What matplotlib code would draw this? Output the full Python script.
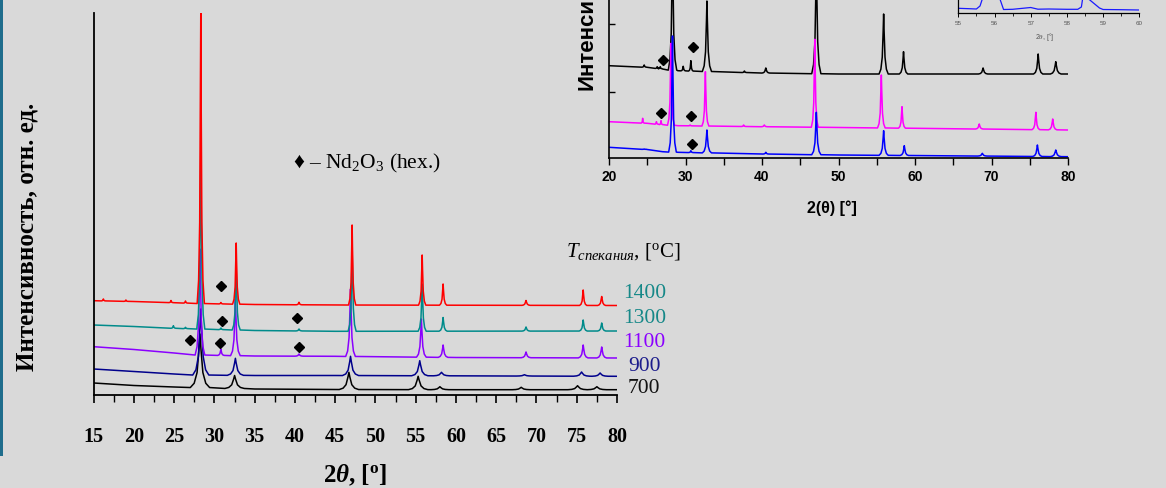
import numpy as np
import matplotlib.pyplot as plt
from matplotlib.patches import Rectangle
from matplotlib.ticker import MultipleLocator

plt.rcParams['font.family'] = ['Liberation Serif', 'DejaVu Sans']
plt.rcParams['mathtext.fontset'] = 'custom'
plt.rcParams['mathtext.rm'] = 'Liberation Serif'
plt.rcParams['mathtext.it'] = 'Liberation Serif:italic'
plt.rcParams['mathtext.bf'] = 'Liberation Serif:bold'
plt.rcParams['mathtext.sf'] = 'Liberation Serif:bold:italic'

W, H = 1166, 489

# ---- left chart: XRD patterns vs sintering temperature (arb. units) ----
# peaks are (2theta, top intensity, foot half-width)
left_ticks = [15, 20, 25, 30, 35, 40, 45, 50, 55, 60, 65, 70, 75, 80]
temps = ['700', '900', '1100', '1300', '1400']
temp_colors = ['#000000', '#00008c', '#8a00ff', '#008b8b', '#ff0000']
label_colors = ['#111111', '#1c1c8c', '#8a00ff', '#168888', '#168888']

base_700_x = [15, 20, 25, 28, 35, 45, 60, 80]
base_700_y = [12, 9.5, 8, 7.5, 6, 5.5, 5.3, 5.3]
peaks_700 = [(28.2, 61, 1.2), (32.5, 19.5, 1.2), (46.7, 22.7, 1.2), (55.3, 18.7, 1.2),
             (58.0, 8.3, 1.1), (68.1, 7.7, 1.1), (75.1, 9.3, 1.2), (77.5, 8.3, 1.2)]

base_900_x = [15, 20, 25, 28, 35, 45, 80]
base_900_y = [26, 23.5, 21, 20, 19.5, 19.5, 18.7]
peaks_900 = [(28.3, 86, 1.0), (32.6, 36.7, 1.0), (46.9, 38.7, 1.0), (55.5, 34.3, 1.0),
             (58.2, 22.7, 1.0), (68.5, 20.3, 1.0), (75.6, 23, 1.0), (77.9, 22, 1.0)]

base_1100_x = [15, 20, 25, 28, 35, 45, 60, 80]
base_1100_y = [48.3, 45.5, 42, 40, 39, 38.7, 37.5, 37]
peaks_1100 = [(28.2, 146, 0.6), (30.8, 46, 0.4), (32.6, 96, 0.6), (40.5, 41, 0.5),
              (46.9, 106, 0.6), (55.7, 76, 0.6), (58.4, 50, 0.6), (68.7, 43, 0.6),
              (75.8, 50, 0.6), (78.1, 48, 0.6)]

base_1300_x = [15, 20, 25, 28, 35, 45, 80]
base_1300_y = [70, 68.5, 66.7, 66, 64.5, 63.7, 64]
peaks_1300 = [(24.9, 69.3, 0.3), (26.4, 67.7, 0.3), (28.3, 246, 0.5), (30.8, 67, 0.3),
              (32.7, 128, 0.5), (40.5, 66, 0.4), (47.1, 146, 0.5), (55.8, 111, 0.5),
              (58.4, 77.5, 0.5), (68.7, 68, 0.5), (75.8, 75, 0.5), (78.1, 72, 0.5)]

base_1400_x = [15, 20, 25, 28, 35, 45, 80]
base_1400_y = [94.3, 93.5, 92.3, 91.5, 90.5, 90, 89.5]
peaks_1400 = [(16.2, 96, 0.25), (19.0, 95, 0.25), (24.6, 94.5, 0.25), (26.4, 94, 0.25),
              (28.3, 382, 0.45), (30.8, 92.5, 0.25), (32.7, 152, 0.45), (40.5, 92.7, 0.35),
              (47.1, 170, 0.45), (55.8, 140, 0.45), (58.4, 111, 0.45), (68.7, 94.5, 0.5),
              (75.8, 105, 0.45), (78.1, 98.5, 0.5)]

left_marks_x = [30.8, 30.9, 27.0, 30.7, 40.3, 40.5]
left_marks_y = [109, 74.3, 55, 52, 76.7, 47.7]

# ---- right chart (cropped at the top) ----
right_ticks = [20, 30, 40, 50, 60, 70, 80]
right_colors = ['#000000', '#ff00ff', '#0000ff']

base_rk_x = [20, 25, 27, 29, 40, 50, 80]
base_rk_y = [92.6, 91, 89.3, 87.6, 85.3, 84.3, 84.3]
peaks_rk = [(24.6, 93.3, 0.3), (26.3, 91.6, 0.25), (26.7, 91.6, 0.25), (28.3, 219, 0.55),
            (29.7, 92, 0.3), (30.7, 97.6, 0.3), (32.8, 157.3, 0.6), (37.7, 87.3, 0.3),
            (40.5, 90.3, 0.5), (47.1, 199, 0.6), (55.9, 144.3, 0.6), (58.5, 106.6, 0.55),
            (68.9, 90.3, 0.6), (76.1, 104.3, 0.6), (78.4, 96.6, 0.7)]

base_rm_x = [20, 25, 27, 29, 40, 48, 80]
base_rm_y = [36.6, 35, 33.6, 32.6, 31.6, 31, 28.3]
peaks_rm = [(24.4, 40, 0.2), (26.2, 36.6, 0.2), (26.8, 37.6, 0.2), (28.1, 115, 0.45),
            (30.6, 33.3, 0.25), (32.6, 86.6, 0.45), (37.6, 33.3, 0.3), (40.3, 33.3, 0.4),
            (46.9, 119, 0.45), (55.6, 83.3, 0.5), (58.3, 51.6, 0.45), (68.4, 34.3, 0.5),
            (75.8, 46, 0.5), (78.0, 39.3, 0.55)]

base_rb_x = [20, 25, 27, 29, 40, 50, 80]
base_rb_y = [11, 8.8, 6.6, 6, 4.3, 3.3, 1.6]
peaks_rb = [(24.6, 9.3, 0.3), (28.3, 122.3, 0.5), (30.7, 7.6, 0.3), (32.8, 28.3, 0.6),
            (40.5, 6, 0.4), (47.1, 46, 0.6), (55.9, 27.6, 0.6), (58.6, 12.6, 0.55),
            (68.8, 5, 0.6), (76.0, 13.3, 0.6), (78.4, 8.3, 0.7)]

right_marks_x = [27.0, 31.0, 26.8, 30.7, 30.8]
right_marks_y = [98.6, 111, 45, 42, 14]

# ---- inset (zoom 55-60 deg, cropped at the top) ----
inset_x = [55.0, 55.3, 55.5, 55.6, 55.9, 56.15, 56.25, 56.5, 57.0, 57.2, 57.5, 58.0,
           58.3, 58.4, 58.5, 58.6, 58.7, 58.8, 58.9, 59.0, 59.5, 60.0]
inset_y = [4.7, 4.3, 4.0, 7, 40, 14, 3.5, 3.7, 5.5, 3.8, 4.0, 3.7,
           3.7, 6, 30, 14, 11, 8, 5, 3.5, 3.3, 3.0]


def pattern(bx, by, peaks):
    # baseline points plus a cusp-shaped reflection for every tabulated peak
    shape_dx = [-1, -0.6, -0.3, -0.1, 0, 0.1, 0.3, 0.6, 1]
    shape_f = [0, 0.08, 0.28, 0.72, 1, 0.72, 0.28, 0.08, 0]
    pts = [(x, y) for x, y in zip(bx, by)
           if all(abs(x - p) > w for p, _, w in peaks)]
    for p, top, w in peaks:
        b = np.interp(p, bx, by)
        for dx, f in zip(shape_dx, shape_f):
            pts.append((p + dx * w, b + f * (top - b)))
    pts.sort()
    return [q[0] for q in pts], [q[1] for q in pts]


fig = plt.figure(figsize=(W / 100, H / 100), dpi=100)
fig.patch.set_facecolor('#d9d9d9')


def fx(px):
    return px / W


def fy(py):
    return 1 - py / H


fig.add_artist(Rectangle((0, fy(457)), 3 / W, 457 / H, transform=fig.transFigure,
                         color='#1f6d8c', lw=0))

# left chart
ax = fig.add_axes([fx(93.7), fy(396), (617 - 93.7) / W, (396 - 14) / H])
ax.patch.set_alpha(0)
left_data = [(base_700_x, base_700_y, peaks_700), (base_900_x, base_900_y, peaks_900),
             (base_1100_x, base_1100_y, peaks_1100), (base_1300_x, base_1300_y, peaks_1300),
             (base_1400_x, base_1400_y, peaks_1400)]
for (bx, by, pk), c in zip(left_data, temp_colors):
    x, y = pattern(bx, by, pk)
    ax.plot(x, y, color=c, lw=1.1)
ax.plot(left_marks_x, left_marks_y, 'D', color='black', ms=5, ls='none')
ax.set_xlim(15, 80)
ax.set_ylim(0, 382)
ax.set_yticks([])
for s in ['top', 'right']:
    ax.spines[s].set_visible(False)
for s in ['left', 'bottom']:
    ax.spines[s].set_linewidth(1.3)
ax.set_xticks(left_ticks)
ax.set_xticklabels([str(t) for t in left_ticks], fontweight='bold')
ax.xaxis.set_minor_locator(MultipleLocator(2.5))
ax.tick_params(axis='x', which='major', direction='out', length=6, width=1.2,
               pad=16, labelsize=14.5)
ax.tick_params(axis='x', which='minor', direction='out', length=5, width=1.0)

fig.text(fx(355), fy(475), r'$\mathbf{2}\mathsf{\theta}$, [$^\mathbf{o}$]',
         ha='center', va='center', fontsize=18, fontweight='bold')
fig.text(fx(27), fy(237), 'Интенсивность, отн. ед.', rotation=90, ha='center',
         va='center', fontsize=18, fontweight='bold')
fig.text(fx(293), fy(168), '♦ – Nd$_2$O$_3$ (hex.)', ha='left', va='baseline',
         fontsize=15.5)
fig.text(fx(566), fy(257), r'$T_{спекания}$, [$^{\rm o}$C]', ha='left', va='baseline',
         fontsize=15)
label_x = [628, 628, 623, 623, 623]
label_y = [389, 367, 342.7, 319, 294]
for t, c, lx, ly in zip(temps, label_colors, label_x, label_y):
    fig.text(fx(lx), fy(ly), t, ha='left', va='center', fontsize=15.5, color=c)

# right chart
axr = fig.add_axes([fx(609), fy(159.3), (1068 - 609) / W, 300 / H])
axr.patch.set_alpha(0)
right_data = [(base_rk_x, base_rk_y, peaks_rk), (base_rm_x, base_rm_y, peaks_rm),
              (base_rb_x, base_rb_y, peaks_rb)]
for (bx, by, pk), c in zip(right_data, right_colors):
    x, y = pattern(bx, by, pk)
    axr.plot(x, y, color=c, lw=1.1)
axr.plot(right_marks_x, right_marks_y, 'D', color='black', ms=5, ls='none')
axr.set_xlim(20, 80)
axr.set_ylim(0, 300)
for s in ['top', 'right']:
    axr.spines[s].set_visible(False)
for s in ['left', 'bottom']:
    axr.spines[s].set_linewidth(1.2)
axr.set_yticks([66.6, 134.3])
axr.set_yticklabels([])
axr.tick_params(axis='y', direction='in', length=4, width=1.0)
axr.set_xticks(right_ticks)
axr.set_xticklabels([str(t) for t in right_ticks], fontweight='bold',
                    family='Liberation Sans')
axr.xaxis.set_minor_locator(MultipleLocator(5))
axr.tick_params(axis='x', which='both', direction='out', length=5, width=1.0,
                pad=3, labelsize=10)
fig.text(fx(832), fy(208), '2(θ) [°]', ha='center', va='center', fontsize=11.5,
         fontweight='bold', family='Liberation Sans')
# only the lower part of this axis title is inside the slide crop
fig.text(fx(587), fy(90), 'Интенси', rotation=90, ha='center', va='bottom',
         fontsize=16, fontweight='bold', family='Liberation Sans')

# inset
axi = fig.add_axes([fx(958.3), fy(14), (1139.3 - 958.3) / W, 60 / H])
axi.patch.set_alpha(0)
axi.plot(inset_x, inset_y, color='#1a1aff', lw=0.9)
axi.set_xlim(55, 60)
axi.set_ylim(0, 60)
axi.set_yticks([])
for s in ['top', 'right']:
    axi.spines[s].set_visible(False)
for s in ['left', 'bottom']:
    axi.spines[s].set_linewidth(0.9)
axi.set_xticks([55, 56, 57, 58, 59, 60])
axi.xaxis.set_minor_locator(MultipleLocator(0.5))
axi.tick_params(axis='x', which='major', direction='out', length=3, width=0.7,
                pad=2, labelsize=4.5, labelcolor='#555555')
axi.tick_params(axis='x', which='minor', direction='out', length=2, width=0.6)
for lbl in axi.get_xticklabels():
    lbl.set_family('Liberation Sans')
fig.text(fx(1045), fy(36.7), r'2$\theta$, [°]', ha='center', va='center', fontsize=5,
         color='#555555', family='Liberation Sans')

fig.savefig('out.png', dpi=100, facecolor=fig.get_facecolor())
